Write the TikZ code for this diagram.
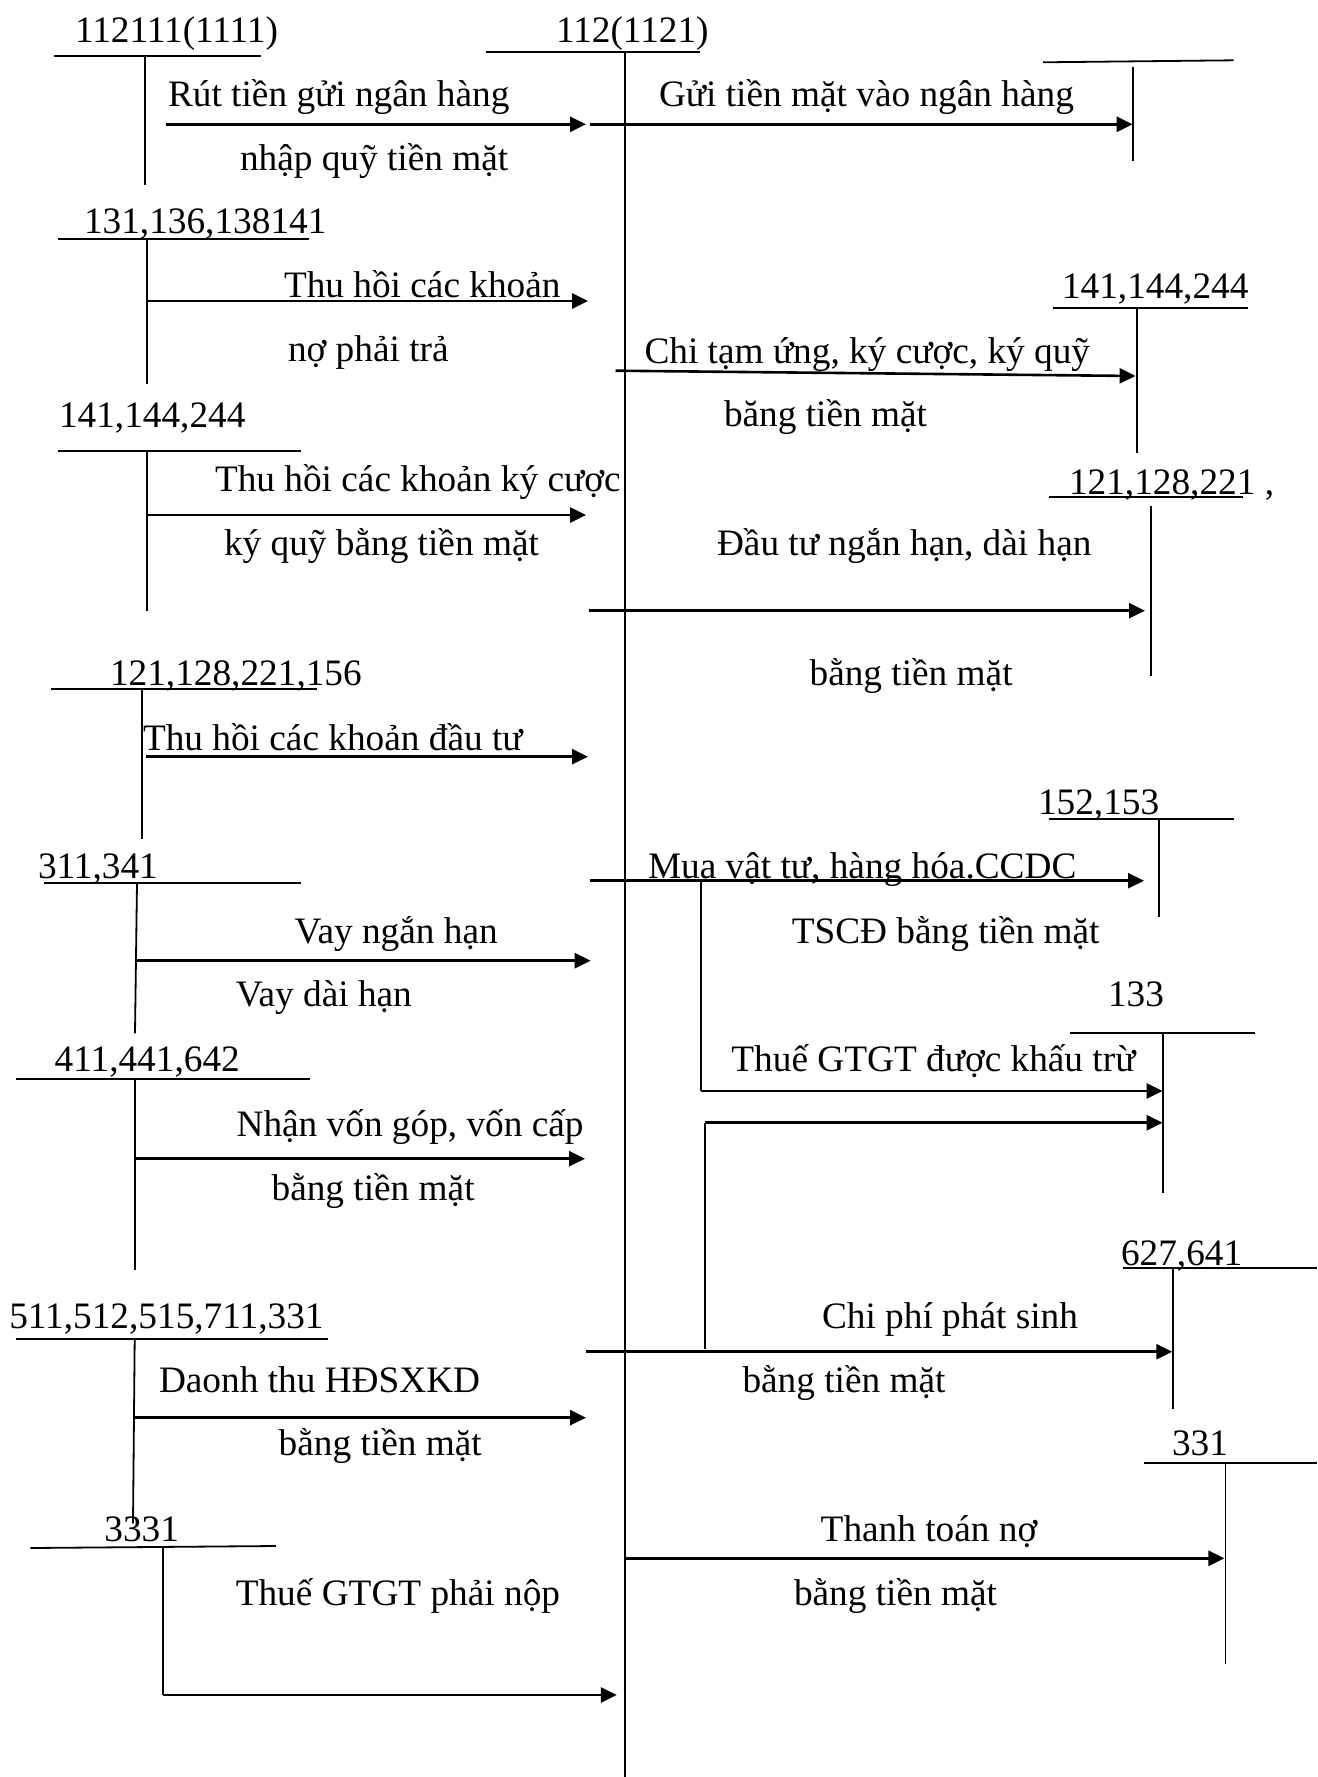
\documentclass[tikz,border=0pt]{standalone}
\usepackage{fontspec}
\setmainfont{Liberation Serif}
\usetikzlibrary{arrows.meta}
\begin{document}
\begin{tikzpicture}[x=1pt,y=-1pt,
  lbl/.style={anchor=base west,inner sep=0pt,outer sep=0pt,font=\fontsize{37.3}{44}\selectfont},
  tline/.style={line width=1.8pt},
  mainline/.style={line width=2.4pt},
  flow/.style={line width=2.6pt,-{Triangle[length=16pt,width=15pt]}}]
\fill[white] (0,0) rectangle (1317,1777);
\useasboundingbox (0,0) rectangle (1317,1777);

% ---------- account headings ----------
\node[lbl] (n1111) at (75,43) {112111(1111)};
\node[lbl] (n1121) at (556,43) {112(1121)};
\node[lbl] (n131) at (84,233) {131,136,138141};
\node[lbl] (n141r) at (1062,298.3) {141,144,244};
\node[lbl] (n141l) at (59,427.5) {141,144,244};
\node[lbl] (n121r) at (1069,494) {121,128,221 ,};
\node[lbl] (n121l) at (110,685.7) {121,128,221,156};
\node[lbl] (n152) at (1038,814.3) {152,153};
\node[lbl] (n311) at (38,878.3) {311,341};
\node[lbl] (n133) at (1108,1006.7) {133};
\node[lbl] (n411) at (54.7,1071.7) {411,441,642};
\node[lbl] (n627) at (1121,1265) {627,641};
\node[lbl] (n511) at (9.3,1328.3) {511,512,515,711,331};
\node[lbl] (n331) at (1172,1455) {331};
\node[lbl] (n3331) at (104.4,1541.7) {3331};

% ---------- T-account lines ----------
\draw[tline] (54,56) -- (261,56);        \draw[tline] (145.3,56) -- (145.3,185);
\draw[tline] (486,51.7) -- (700,51.7);   \draw[mainline] (624.8,51.7) -- (624.8,1777);
\draw[tline] (1043,62.3) -- (1233.6,60.3); \draw[tline] (1133,66.7) -- (1133,161);
\draw[tline] (58,239.3) -- (309,239.3);  \draw[tline] (147,239.3) -- (147,384);
\draw[tline] (1052.5,308.3) -- (1248,308.3); \draw[tline] (1137,308.3) -- (1137,452.7);
\draw[tline] (58,451) -- (301,451);      \draw[tline] (147,451) -- (147,610.7);
\draw[tline] (1048.6,497.3) -- (1243,497.3); \draw[tline] (1151,506) -- (1151,676);
\draw[tline] (50.5,689.3) -- (316.6,689.3); \draw[tline] (142.3,689.3) -- (142.3,839.3);
\draw[tline] (1048.6,819) -- (1233.6,819); \draw[tline] (1158.7,819) -- (1158.7,917.3);
\draw[tline] (44,882.7) -- (301,882.7);  \draw[tline] (137,882.7) -- (135,1033.3);
\draw[tline] (1070,1033.3) -- (1255,1033.3); \draw[tline] (1162.6,1033.3) -- (1162.6,1192.7);
\draw[tline] (16,1079.3) -- (309.5,1079.3); \draw[tline] (134.7,1079.3) -- (134.7,1270);
\draw[tline] (1122.5,1268.3) -- (1317,1268.3); \draw[tline] (1173,1268.3) -- (1173,1409.3);
\draw[tline] (16,1339) -- (327.6,1339);  \draw[tline] (134.7,1339) -- (133,1523.3);
\draw[tline] (1144,1463.3) -- (1317,1463.3); \draw[tline] (1225.4,1463.3) -- (1225.4,1664.3);
\draw[tline] (30.3,1548) -- (275.8,1546); \draw[tline] (163,1547.7) -- (163,1695);

% ---------- connector end points ----------
\coordinate (a1s) at (166,124.3);   \coordinate (a1e) at (586,124.3);
\coordinate (a2s) at (590,124.3);   \coordinate (a2e) at (1132.7,124.3);
\coordinate (a3s) at (147,301);     \coordinate (a3e) at (588,301);
\coordinate (a4s) at (615.5,370.7); \coordinate (a4e) at (1135.6,376);
\coordinate (a5s) at (147,515);     \coordinate (a5e) at (586,515);
\coordinate (a6s) at (588.6,610.7); \coordinate (a6e) at (1145,610.7);
\coordinate (a7s) at (146,756.7);   \coordinate (a7e) at (588,756.7);
\coordinate (a8s) at (135.6,960.7); \coordinate (a8e) at (590.7,960.7);
\coordinate (a9s) at (590,880.7);   \coordinate (a9e) at (1144,880.7);
\coordinate (b1) at (701,880.7);    \coordinate (b1c) at (701,1091);
\coordinate (a10e) at (1162.6,1091);
\coordinate (b2) at (704.9,1349);   \coordinate (b2c) at (704.9,1122.7);
\coordinate (a11e) at (1162.6,1122.7);
\coordinate (a12s) at (134.7,1158.7); \coordinate (a12e) at (585,1158.7);
\coordinate (a13s) at (585.6,1351.7); \coordinate (a13e) at (1172.3,1351.7);
\coordinate (a14s) at (133,1417.7); \coordinate (a14e) at (586,1417.7);
\coordinate (a15s) at (624.8,1558.3); \coordinate (a15e) at (1224.4,1558.3);
\coordinate (a16s) at (163,1695);   \coordinate (a16e) at (616.8,1695);

% ---------- connectors ----------
\draw[flow] (a1s) -- (a1e);
\draw[flow] (a2s) -- (a2e);
\draw[flow] (a3s) -- (a3e);
\draw[flow] (a4s) -- (a4e);
\draw[flow] (a5s) -- (a5e);
\draw[flow] (a6s) -- (a6e);
\draw[flow] (a7s) -- (a7e);
\draw[flow] (a8s) -- (a8e);
\draw[flow] (a9s) -- (a9e);
\draw[tline] (b1) -- (b1c);
\draw[flow] (b1c) -- (a10e);
\draw[tline] (b2) -- (b2c);
\draw[flow] (b2c) -- (a11e);
\draw[flow] (a12s) -- (a12e);
\draw[flow] (a13s) -- (a13e);
\draw[flow] (a14s) -- (a14e);
\draw[flow] (a15s) -- (a15e);
\draw[flow] (a16s) -- (a16e);

% ---------- transaction texts ----------
\node[lbl] (x1) at (168,106) {Rút tiền gửi ngân hàng};
\node[lbl] (x2) at (240,170) {nhập quỹ tiền mặt};
\node[lbl] (x3) at (659,106) {Gửi tiền mặt vào ngân hàng};
\node[lbl] (x4) at (284,297.7) {Thu hồi các khoản};
\node[lbl] (x5) at (288,361.7) {nợ phải trả};
\node[lbl] (x6) at (644.5,363) {Chi tạm ứng, ký cược, ký quỹ};
\node[lbl] (x7) at (724,426.7) {băng tiền mặt};
\node[lbl] (x8) at (215,491.7) {Thu hồi các khoản ký cược};
\node[lbl] (x9) at (224,555.7) {ký quỹ bằng tiền mặt};
\node[lbl] (x10) at (717,555.7) {Đầu tư ngắn hạn, dài hạn};
\node[lbl] (x11) at (809.6,685) {bằng tiền mặt};
\node[lbl] (x12) at (143,750) {Thu hồi các khoản đầu tư};
\node[lbl] (x13) at (648,878.3) {Mua vật tư, hàng hóa.CCDC};
\node[lbl] (x14) at (294.7,943.3) {Vay ngắn hạn};
\node[lbl] (x15) at (791.8,943.3) {TSCĐ bằng tiền mặt};
\node[lbl] (x16) at (235.8,1006.7) {Vay dài hạn};
\node[lbl] (x17) at (731.4,1071.7) {Thuế GTGT được khấu trừ};
\node[lbl] (x18) at (236.6,1136.7) {Nhận vốn góp, vốn cấp};
\node[lbl] (x19) at (271.6,1200) {bằng tiền mặt};
\node[lbl] (x20) at (822,1328.3) {Chi phí phát sinh};
\node[lbl] (x21) at (159,1392.7) {Daonh thu HĐSXKD};
\node[lbl] (x22) at (742.5,1392.7) {bằng tiền mặt};
\node[lbl] (x23) at (278.7,1455) {bằng tiền mặt};
\node[lbl] (x24) at (820.7,1541.7) {Thanh toán nợ};
\node[lbl] (x25) at (235.8,1605) {Thuế GTGT phải nộp};
\node[lbl] (x26) at (794,1605) {bằng tiền mặt};
\end{tikzpicture}
\end{document}
